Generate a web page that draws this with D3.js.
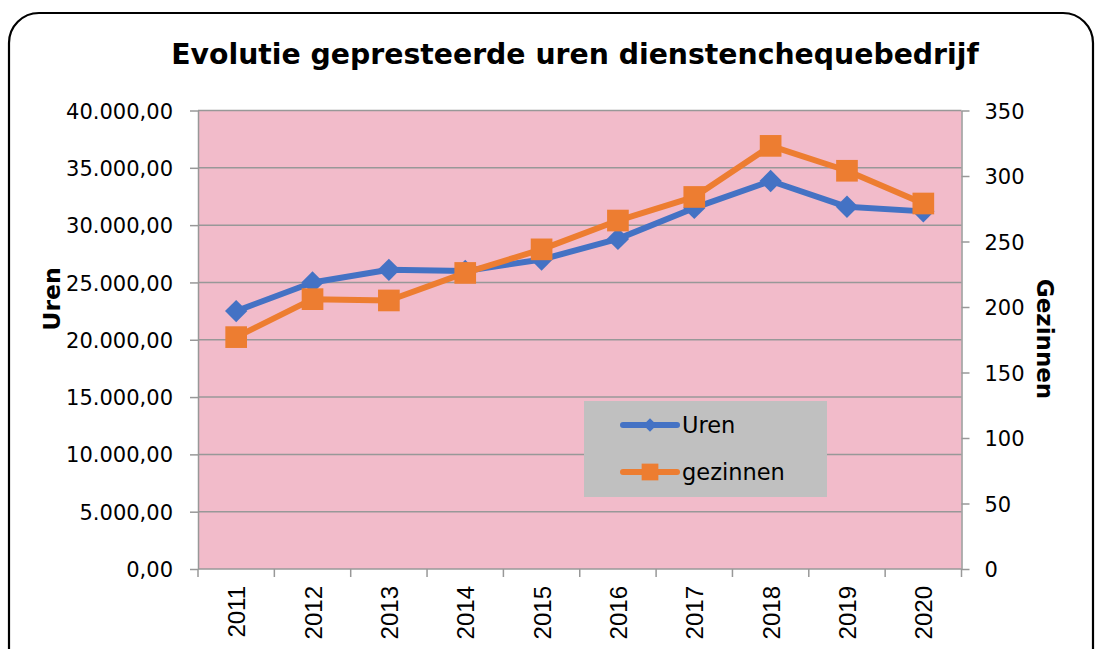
<!DOCTYPE html>
<html>
<head>
<meta charset="utf-8">
<script src="https://cdn.jsdelivr.net/npm/d3@7"></script>
<style>
  body { margin: 0; background: #fff; }
  svg { display: block; }
</style>
</head>
<body>
<div id="chart"></div>
<script>
// data
const years = ["2011", "2012", "2013", "2014", "2015", "2016", "2017", "2018", "2019", "2020"];
const uren = [22500, 25000, 26100, 26000, 27000, 28800, 31500, 33850, 31600, 31200];
const gezinnen = [177, 206, 205, 226, 244, 266, 284, 323, 304, 279];
const leftTicks = [0, 5000, 10000, 15000, 20000, 25000, 30000, 35000, 40000];
const rightTicks = [0, 50, 100, 150, 200, 250, 300, 350];

const width = 1097, height = 649;
const margin = { top: 110.5, right: 136, bottom: 80, left: 198 };
const blue = "#4472C4", orange = "#ED7D31", gridColor = "#989898";

const svg = d3.select("#chart").append("svg")
    .attr("width", width)
    .attr("height", height);

// outer rounded frame
svg.append("rect")
    .attr("x", 9).attr("y", 13)
    .attr("width", 1084).attr("height", 680)
    .attr("rx", 30).attr("ry", 30)
    .attr("fill", "#fff")
    .attr("stroke", "#000")
    .attr("stroke-width", 2.2);

const plotRight = width - margin.right + 0.5;
const plotBottom = 569;

const x = d3.scaleBand()
    .domain(years)
    .range([margin.left, plotRight]);

const yL = d3.scaleLinear().domain([0, 40000]).range([plotBottom, margin.top]);
const yR = d3.scaleLinear().domain([0, 350]).range([plotBottom, margin.top]);

const nl = d3.formatLocale({ decimal: ",", thousands: ".", grouping: [3], currency: ["", ""] });
const fmt = nl.format(",.2f");

// plot background
svg.append("rect")
    .attr("x", margin.left).attr("y", margin.top)
    .attr("width", plotRight - margin.left)
    .attr("height", plotBottom - margin.top)
    .attr("fill", "#F2BBCA");

// gridlines
svg.append("g")
    .selectAll("line")
    .data(leftTicks.slice(1))
    .join("line")
    .attr("x1", margin.left).attr("x2", plotRight)
    .attr("y1", d => yL(d)).attr("y2", d => yL(d))
    .attr("stroke", gridColor)
    .attr("stroke-width", 1.5);

function styleAxis(g) {
    g.select(".domain").attr("stroke", gridColor).attr("stroke-width", 1.5);
    g.selectAll(".tick line").attr("stroke", gridColor).attr("stroke-width", 1.5);
    g.selectAll("text").attr("fill", "#000");
}

// left axis
svg.append("g")
    .attr("transform", `translate(${margin.left},0)`)
    .call(d3.axisLeft(yL).tickValues(leftTicks).tickFormat(fmt).tickSizeInner(8).tickSizeOuter(0).tickPadding(17))
    .call(styleAxis)
    .call(g => g.selectAll("text")
        .style("font-family", "DejaVu Sans")
        .style("font-size", "21px")
        .attr("dy", "0.36em"));

// right axis
svg.append("g")
    .attr("transform", `translate(${plotRight},0)`)
    .call(d3.axisRight(yR).tickValues(rightTicks).tickSizeInner(8).tickSizeOuter(0).tickPadding(15))
    .call(styleAxis)
    .call(g => g.selectAll("text")
        .style("font-family", "DejaVu Sans")
        .style("font-size", "21px")
        .attr("dy", "0.36em"));

// bottom axis: ticks at category boundaries
const xAxisG = svg.append("g")
    .attr("transform", `translate(0,${plotBottom})`);
xAxisG.append("line")
    .attr("x1", margin.left).attr("x2", plotRight)
    .attr("stroke", gridColor).attr("stroke-width", 1.5);
xAxisG.selectAll("line.tk")
    .data(years.concat(["end"]))
    .join("line")
    .attr("class", "tk")
    .attr("x1", (d, i) => i < years.length ? x(d) : plotRight)
    .attr("x2", (d, i) => i < years.length ? x(d) : plotRight)
    .attr("y1", 0).attr("y2", 8)
    .attr("stroke", gridColor).attr("stroke-width", 1.5);
xAxisG.selectAll("text")
    .data(years)
    .join("text")
    .attr("transform", d => `translate(${x(d) + x.bandwidth() / 2 + 9},17) rotate(-90)`)
    .attr("text-anchor", "end")
    .style("font-family", "Liberation Sans")
    .style("font-size", "24px")
    .text(d => d);

// series
const diamond = d3.symbol().type(d3.symbolSquare);
const square = d3.symbol().type(d3.symbolSquare);

function drawSeries(values, scale, color, marker, size, rot) {
    const line = d3.line()
        .x((d, i) => x(years[i]) + x.bandwidth() / 2)
        .y(d => scale(d));
    svg.append("path")
        .datum(values)
        .attr("d", line)
        .attr("fill", "none")
        .attr("stroke", color)
        .attr("stroke-width", 6)
        .attr("stroke-linejoin", "round");
    svg.append("g")
        .selectAll("path")
        .data(values)
        .join("path")
        .attr("d", marker.size(size)())
        .attr("transform", (d, i) => `translate(${x(years[i]) + x.bandwidth() / 2},${scale(d)}) rotate(${rot})`)
        .attr("fill", color);
}

drawSeries(uren, yL, blue, diamond, 250, 45);
drawSeries(gezinnen, yR, orange, square, 470, 0);

// title
svg.append("text")
    .attr("x", 575).attr("y", 64)
    .attr("text-anchor", "middle")
    .style("font-family", "DejaVu Sans")
    .style("font-weight", "bold")
    .style("font-size", "28.3px")
    .text("Evolutie gepresteerde uren dienstenchequebedrijf");

// axis titles
svg.append("text")
    .attr("transform", "translate(60,299) rotate(-90)")
    .attr("text-anchor", "middle")
    .style("font-family", "DejaVu Sans")
    .style("font-weight", "bold")
    .style("font-size", "23.5px")
    .text("Uren");

svg.append("text")
    .attr("transform", "translate(1037,339) rotate(90)")
    .attr("text-anchor", "middle")
    .style("font-family", "DejaVu Sans")
    .style("font-weight", "bold")
    .style("font-size", "23px")
    .text("Gezinnen");

// legend
const legend = svg.append("g");
legend.append("rect")
    .attr("x", 584).attr("y", 401)
    .attr("width", 243).attr("height", 96)
    .attr("fill", "#C0C0C0");

const legendItems = [
    { name: "Uren", color: blue, marker: diamond, size: 90, rot: 45, y: 425 },
    { name: "gezinnen", color: orange, marker: square, size: 280, rot: 0, y: 472 }
];
legendItems.forEach(it => {
    legend.append("line")
        .attr("x1", 623).attr("x2", 677)
        .attr("y1", it.y).attr("y2", it.y)
        .attr("stroke", it.color)
        .attr("stroke-width", 6)
        .attr("stroke-linecap", "round");
    legend.append("path")
        .attr("d", it.marker.size(it.size)())
        .attr("transform", `translate(650,${it.y}) rotate(${it.rot})`)
        .attr("fill", it.color);
    legend.append("text")
        .attr("x", 682).attr("y", it.y)
        .attr("dy", "0.36em")
        .style("font-family", "DejaVu Sans")
        .style("font-size", "22.5px")
        .text(it.name);
});
</script>
</body>
</html>
